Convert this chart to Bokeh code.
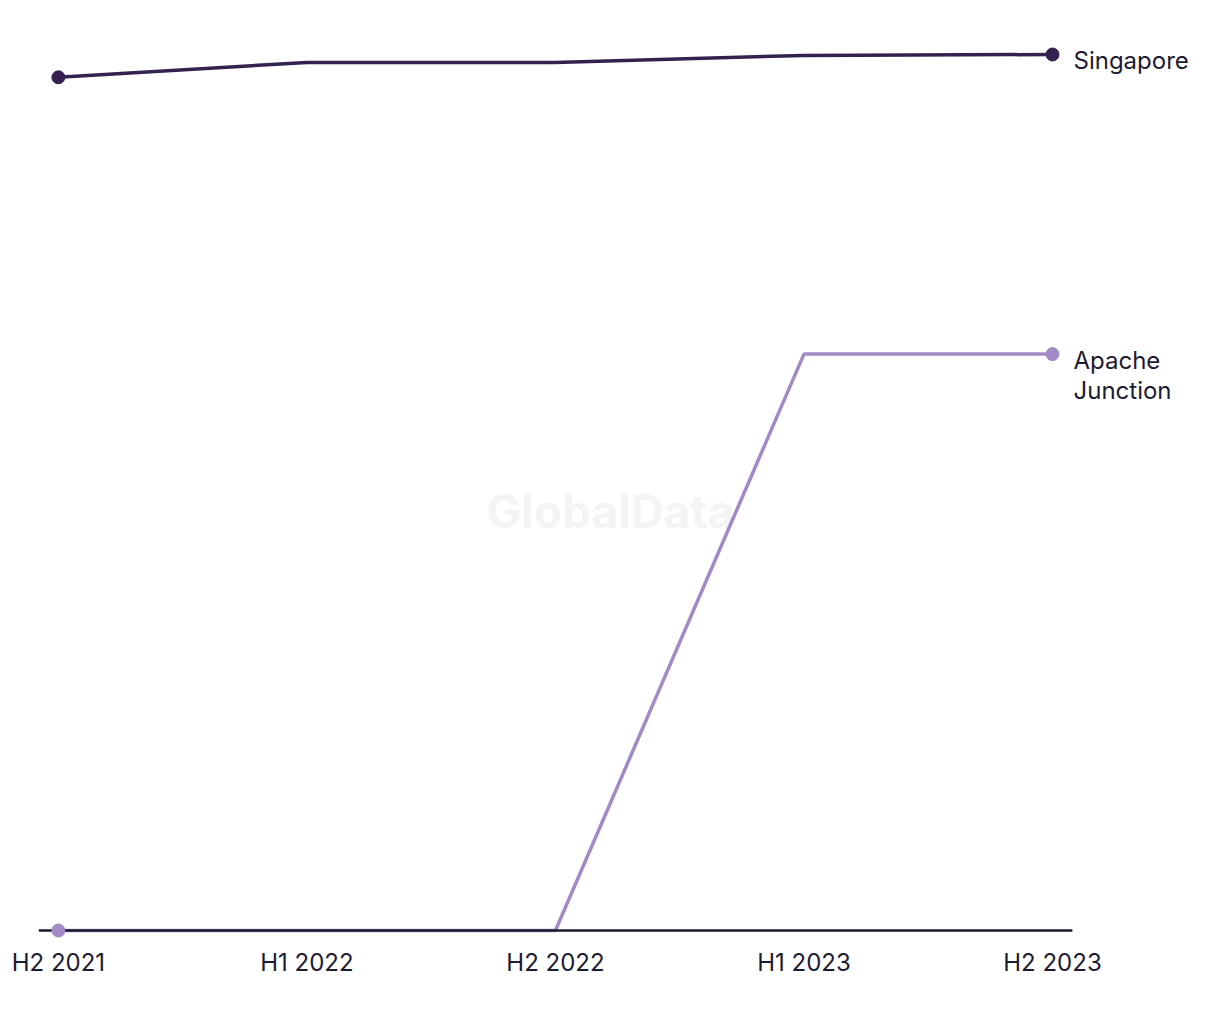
from bokeh.plotting import figure
from bokeh.models import Range1d, ColumnDataSource, Label
from bokeh.embed import file_html
from bokeh.resources import INLINE
from bokeh.core.properties import value

periods = ["H2 2021", "H1 2022", "H2 2022", "H1 2023", "H2 2023"]
singapore = [97.4, 99.1, 99.1, 99.9, 100.0]
apache = [0.0, 0.0, 0.0, 65.8, 65.8]
series_names = ["Singapore", "Apache\nJunction"]
colors = ["#35214f", "#a28ac6"]
FONT = "Inter"
TEXT = "#1c1b33"

xs = list(range(len(periods)))
PAD = 0.08
X_END = len(periods) - 1 + 0.676

p = figure(width=1220, height=1020, frame_width=1182, frame_height=909,
           min_border_left=38, min_border_right=0, min_border_top=30, min_border_bottom=81,
           output_backend="svg", toolbar_location=None,
           x_range=Range1d(-PAD, X_END), y_range=Range1d(-1.027, 102.74))
p.outline_line_color = None
p.background_fill_color = None
p.border_fill_color = "white"
p.xgrid.visible = False
p.ygrid.visible = False
p.yaxis.visible = False

p.xaxis.ticker = xs
p.xaxis.major_label_overrides = {i: s for i, s in enumerate(periods)}
p.xaxis.major_tick_line_color = None
p.xaxis.minor_tick_line_color = None
p.xaxis.axis_line_color = None
p.xaxis.major_label_text_font = FONT
p.xaxis.major_label_text_font_size = "24px"
p.xaxis.major_label_text_color = TEXT
p.xaxis.major_label_standoff = 2

wm = Label(x=572, y=429, x_units="screen", y_units="screen", text="GlobalData",
           text_font=FONT, text_font_style="bold", text_font_size="46px",
           text_color="#f4f4f4", text_align="center", text_baseline="middle",
           level="underlay")
p.add_layout(wm)

series = [(apache, series_names[1], colors[1], 21), (singapore, series_names[0], colors[0], 6)]

for vals, name, c, yoff in series:
    p.line(xs, vals, line_color=c, line_width=3.5)

# baseline (axis line) spanning the category band
p.segment(x0=[-PAD], y0=[0], x1=[xs[-1] + PAD], y1=[0], line_color="#1a1a2e", line_width=2.5)

for vals, name, c, yoff in series:
    ends = ColumnDataSource(dict(x=[xs[0], xs[-1]], y=[vals[0], vals[-1]]))
    p.scatter("x", "y", source=ends, size=13, fill_color=c, line_color=c)
    lab = ColumnDataSource(dict(x=[xs[-1]], y=[vals[-1]], t=[name]))
    p.text("x", "y", text="t", source=lab, x_offset=21, y_offset=yoff,
           text_font=value(FONT), text_font_size="24px", text_color=TEXT,
           text_baseline="middle", text_align="left", text_line_height=1.03)

open("out.html", "w").write(file_html(p, INLINE))
